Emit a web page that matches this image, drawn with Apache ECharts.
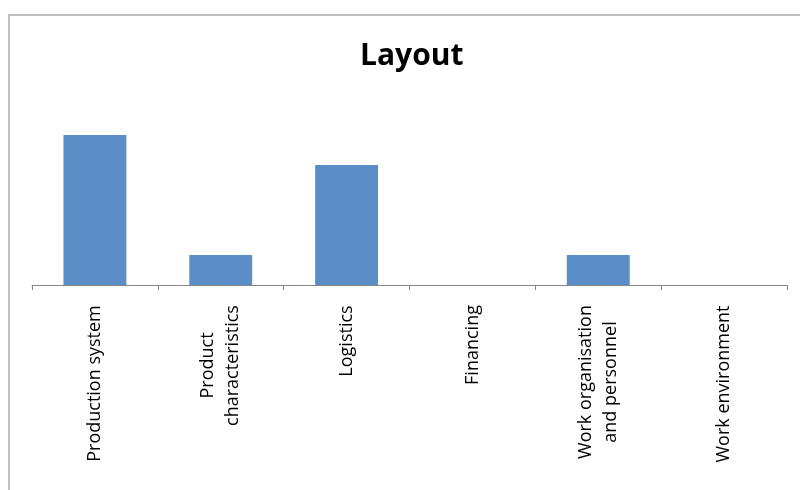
<!DOCTYPE html>
<html>
<head>
<meta charset="utf-8">
<script src="https://cdn.jsdelivr.net/npm/echarts@6/dist/echarts.min.js"></script>
<style>
  html, body { margin: 0; padding: 0; background: #fff; }
  #chart { width: 800px; height: 490px; }
</style>
</head>
<body>
<div id="chart"></div>
<script>
// data
const categories = [
  'Production system',
  'Product\ncharacteristics',
  'Logistics',
  'Financing',
  'Work organisation\nand personnel',
  'Work environment'
]
const values = [5, 1, 4, 0, 1, 0]

const labelFont = '18px "Open Sans"'

// width of the longest line of each label, so lines can be centred in their block
const ctx = document.createElement('canvas').getContext('2d')
ctx.font = labelFont
const rich = {}
categories.forEach((c, i) => {
  const w = Math.max(...c.split('\n').map(l => ctx.measureText(l).width))
  rich['c' + i] = { width: Math.ceil(w), align: 'center', fontSize: 18, lineHeight: 25, color: '#000', fontFamily: 'Open Sans' }
})

const chart = echarts.init(document.getElementById('chart'))
chart.setOption({
  animation: false,
  title: {
    text: 'Layout',
    left: 355,
    top: 36,
    textStyle: { fontFamily: 'Open Sans', fontWeight: 'bold', fontSize: 30, color: '#000' }
  },
  // outer frame of the chart area
  graphic: [{
    type: 'polyline',
    shape: { points: [[9, 490], [9, 15], [800, 15]] },
    style: { stroke: '#c0c0c0', lineWidth: 2, fill: null }
  }],
  grid: { left: 32, right: 13, top: 105, bottom: 205 },
  xAxis: {
    type: 'category',
    data: categories,
    axisLine: { lineStyle: { color: '#868686', width: 1 } },
    axisTick: { show: true, length: 5, lineStyle: { color: '#868686' } },
    axisLabel: {
      interval: 0,
      rotate: 90,
      margin: 20,
      formatter: (v, i) => v.split('\n').map(l => '{c' + i + '|' + l + '}').join('\n'),
      rich: rich
    }
  },
  yAxis: {
    type: 'value',
    min: 0,
    max: 6,
    show: false,
    splitLine: { show: false }
  },
  series: [{
    type: 'bar',
    data: values,
    barCategoryGap: '50%',
    itemStyle: { color: '#5b8ec6' }
  }]
})
</script>
</body>
</html>
